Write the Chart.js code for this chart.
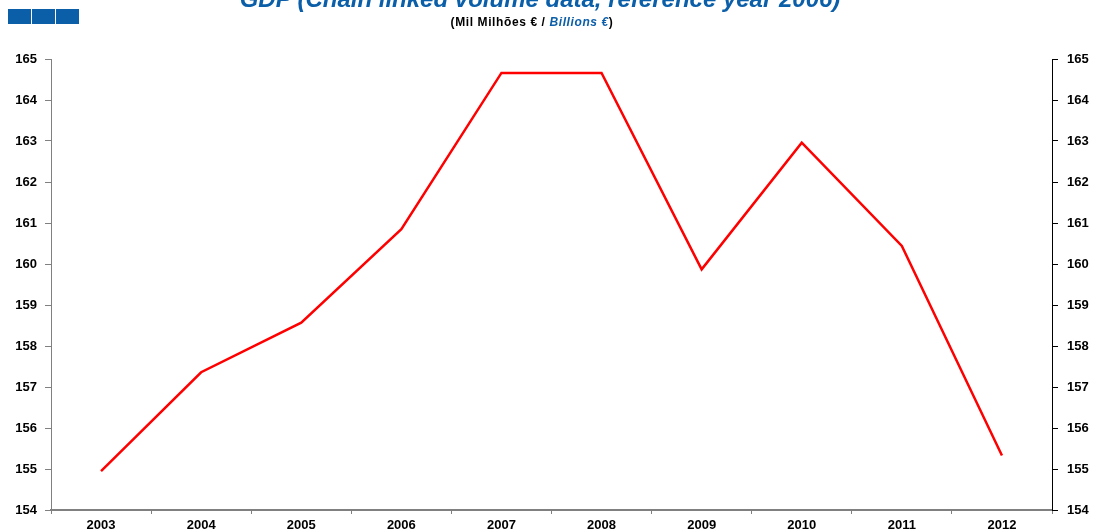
<!DOCTYPE html>
<html>
<head>
<meta charset="utf-8">
<script src="https://cdn.jsdelivr.net/npm/chart.js@4/dist/chart.umd.min.js"></script>
<style>
  html, body { margin: 0; padding: 0; background: #fff; }
  #wrap { position: relative; width: 1097px; height: 531px; overflow: hidden; font-family: Arial, "Liberation Sans", sans-serif; }
  #chart { position: absolute; left: 0; top: 0; }
  .sq { position: absolute; top: 9px; width: 23px; height: 15px; background: #0b5ea8; }
  #titulo { position: absolute; left: 0; width: 1080px; top: -15px; text-align: center; color: #0b5ea8; font-weight: bold; font-style: italic; font-size: 24px; white-space: nowrap; }
  #sub { position: absolute; left: 0; width: 1064px; top: 15px; text-align: center; color: #000; font-weight: bold; font-size: 12px; letter-spacing: 0.6px; white-space: nowrap; }
  #sub i { color: #0b5ea8; }
</style>
</head>
<body>
<div id="wrap">
  <canvas id="chart" width="1097" height="531"></canvas>
  <div class="sq" style="left:8px"></div>
  <div class="sq" style="left:32px"></div>
  <div class="sq" style="left:56px"></div>
  <div id="titulo">GDP (Chain linked volume data, reference year 2006)</div>
  <div id="sub">(Mil Milhões € / <i>Billions €</i>)</div>
</div>
<script>
// dados
const anos = ['2003', '2004', '2005', '2006', '2007', '2008', '2009', '2010', '2011', '2012']
const pib = [154.95, 157.36, 158.57, 160.85, 164.66, 164.66, 159.87, 162.96, 160.44, 155.33]
const yMin = 154
const yMax = 165

const fonte = { family: 'Arial, "Liberation Sans", sans-serif', size: 13, weight: 'bold' }

const ctx = document.getElementById('chart').getContext('2d')
const myChart = new Chart(ctx, {
  type: 'line',
  data: {
    labels: anos,
    datasets: [{
      data: pib,
      borderColor: '#ff0000',
      borderWidth: 2.5,
      pointRadius: 0,
      tension: 0,
      yAxisID: 'y'
    }, {
      data: pib,
      borderColor: 'rgba(0,0,0,0)',
      pointRadius: 0,
      yAxisID: 'y2'
    }]
  },
  options: {
    responsive: false,
    animation: false,
    layout: { padding: { top: 59, left: 0, right: 0, bottom: 0 } },
    plugins: { legend: { display: false }, title: { display: false }, tooltip: { enabled: false } },
    scales: {
      x: {
        offset: true,
        grid: { offset: true, drawOnChartArea: false, tickLength: 4, color: '#808080' },
        border: { color: '#808080', width: 2 },
        ticks: { color: '#000', font: fonte, padding: 4, maxRotation: 0 },
        afterFit: (s) => { s.height = 21 }
      },
      y: {
        position: 'left',
        min: yMin,
        max: yMax,
        grid: { drawOnChartArea: false, tickLength: 6, color: '#808080' },
        border: { color: '#808080', width: 1 },
        ticks: { stepSize: 1, color: '#000', font: fonte, padding: 8 },
        afterFit: (s) => { s.width = 51 }
      },
      y2: {
        position: 'right',
        min: yMin,
        max: yMax,
        grid: { drawOnChartArea: false, tickLength: 6, color: '#000' },
        border: { color: '#000', width: 1 },
        ticks: { stepSize: 1, color: '#000', font: fonte, padding: 9 },
        afterFit: (s) => { s.width = 45 }
      }
    }
  }
})
</script>
</body>
</html>
